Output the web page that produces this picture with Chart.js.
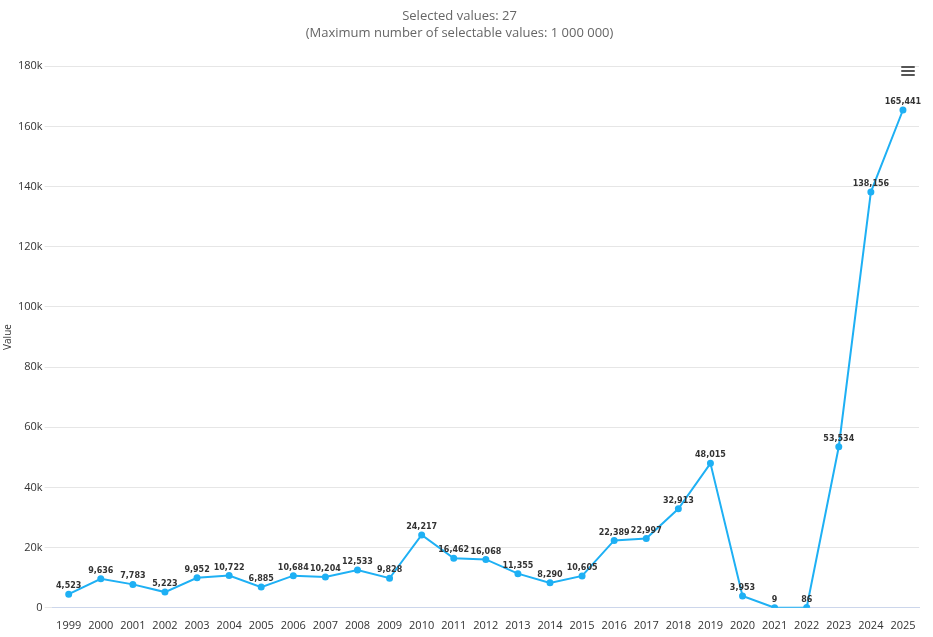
<!DOCTYPE html>
<html lang="en">
<head>
<meta charset="UTF-8">
<title>Selected values</title>
<script src="https://cdn.jsdelivr.net/npm/chart.js"></script>
<style>
  html, body { margin: 0; padding: 0; background: #fff; }
  #wrap { position: relative; width: 933px; height: 637px; }
  #menu { position: absolute; left: 901px; top: 66px; width: 14px; }
  #menu div { height: 2px; background: #555; margin-bottom: 2px; border-radius: 1px; }
</style>
</head>
<body>
<div id="wrap">
  <canvas id="chart" width="933" height="637"></canvas>
  <div id="menu"><div></div><div></div><div></div></div>
</div>
<script>
const years = ['1999','2000','2001','2002','2003','2004','2005','2006','2007','2008','2009','2010','2011','2012','2013','2014','2015','2016','2017','2018','2019','2020','2021','2022','2023','2024','2025'];
const values = [4523, 9636, 7783, 5223, 9952, 10722, 6885, 10684, 10204, 12533, 9828, 24217, 16462, 16068, 11355, 8290, 10605, 22389, 22997, 32913, 48015, 3953, 9, 86, 53534, 138156, 165441];
const yTicks = [0, 20000, 40000, 60000, 80000, 100000, 120000, 140000, 160000, 180000];

const pointLabels = {
  id: 'pointLabels',
  afterDatasetsDraw(chart) {
    const ctx = chart.ctx;
    const meta = chart.getDatasetMeta(0);
    ctx.save();
    ctx.font = 'bold 8px "DejaVu Sans", sans-serif';
    ctx.fillStyle = '#333';
    ctx.textAlign = 'center';
    ctx.textBaseline = 'bottom';
    meta.data.forEach((pt, i) => {
      ctx.fillText(values[i].toLocaleString('en-US'), pt.x, pt.y - 4);
    });
    ctx.restore();
  }
};

new Chart(document.getElementById('chart'), {
  type: 'line',
  data: {
    labels: years,
    datasets: [{
      data: values,
      borderColor: '#1eb0f4',
      backgroundColor: '#1eb0f4',
      borderWidth: 2,
      pointRadius: 2.5,
      pointHoverRadius: 3,
      tension: 0
    }]
  },
  options: {
    responsive: false,
    animation: false,
    layout: { padding: { left: 0, right: 14, top: 4, bottom: 2 } },
    plugins: {
      legend: { display: false },
      tooltip: { enabled: false },
      title: {
        display: true,
        text: 'Selected values: 27',
        color: '#666',
        font: { size: 13, family: '"Open Sans", sans-serif', weight: 'normal' },
        padding: { top: 4, bottom: 2 }
      },
      subtitle: {
        display: true,
        text: '(Maximum number of selectable values: 1 000 000)',
        color: '#666',
        font: { size: 13, family: '"Open Sans", sans-serif' },
        padding: { bottom: 25 }
      }
    },
    scales: {
      x: {
        offset: true,
        grid: { display: false },
        border: { color: '#ccd6eb' },
        ticks: { color: '#333', font: { size: 11, family: '"Open Sans", sans-serif' }, maxRotation: 0, autoSkip: false }
      },
      y: {
        min: 0,
        max: 180000,
        afterBuildTicks: axis => { axis.ticks = yTicks.map(v => ({ value: v })); },
        grid: { color: '#e6e6e6' },
        border: { display: false },
        title: { display: true, text: 'Value', color: '#333', padding: 2, font: { size: 10, family: '"Open Sans", sans-serif' } },
        ticks: {
          color: '#333',
          font: { size: 11, family: '"Open Sans", sans-serif' },
          padding: 2,
          callback: v => v === 0 ? '0' : (v / 1000) + 'k'
        }
      }
    }
  },
  plugins: [pointLabels]
});
</script>
</body>
</html>
